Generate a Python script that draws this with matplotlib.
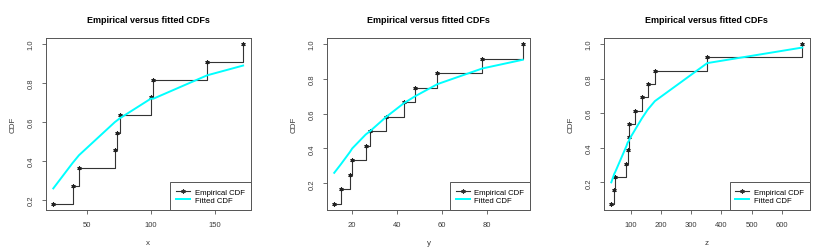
import numpy as np
import matplotlib.pyplot as plt

plt.rcParams['font.family'] = ['Liberation Sans', 'DejaVu Sans']

x_vals = [24, 39, 44, 72, 74, 76, 100, 102, 144, 172]
x_ecdf = [0.182, 0.273, 0.364, 0.455, 0.545, 0.636, 0.727, 0.818, 0.909, 1.0]
x_fit = [0.26, 0.39, 0.43, 0.60, 0.61, 0.62, 0.72, 0.72, 0.84, 0.89]

y_vals = [12, 15, 19, 20, 26, 28, 35, 43, 48, 58, 78, 96]
y_ecdf = [0.083, 0.167, 0.25, 0.333, 0.417, 0.5, 0.583, 0.667, 0.75, 0.833, 0.917, 1.0]
y_fit = [0.26, 0.31, 0.38, 0.40, 0.48, 0.50, 0.58, 0.66, 0.70, 0.77, 0.86, 0.91]

z_vals = [36, 46, 49, 86, 90, 94, 96, 113, 137, 156, 180, 353, 667]
z_ecdf = [0.077, 0.154, 0.231, 0.308, 0.385, 0.462, 0.538, 0.615, 0.692, 0.769, 0.846, 0.923, 1.0]
z_fit = [0.20, 0.25, 0.26, 0.41, 0.43, 0.44, 0.45, 0.50, 0.57, 0.62, 0.67, 0.89, 0.98]

panels = [
    ('x', x_vals, x_ecdf, x_fit, [50, 100, 150]),
    ('y', y_vals, y_ecdf, y_fit, [20, 40, 60, 80]),
    ('z', z_vals, z_ecdf, z_fit, [100, 200, 300, 400, 500, 600]),
]
lefts = [0.0554, 0.396, 0.7317]
widths = [0.2485, 0.2468, 0.250]

fig = plt.figure(figsize=(8.25, 2.53), dpi=100)
txt = '#3a3a3a'

for (name, v, e, f, xt), l, w in zip(panels, lefts, widths):
    ax = fig.add_axes([l, 0.166, w, 0.681])
    ax.step(v, e, where='post', color='#333333', lw=0.8)
    ax.plot(v, e, ls='none', marker=(6, 2, 0), ms=3, mew=0.8, color='#222222')
    ax.plot(v, f, color='#00ffff', lw=1.4)
    ax.margins(x=0.04, y=0.04)
    ax.set_xticks(xt)
    ax.set_yticks([0.2, 0.4, 0.6, 0.8, 1.0])
    ax.set_yticklabels(['0.2', '0.4', '0.6', '0.8', '1.0'], rotation=90, va='center')
    ax.tick_params(labelsize=5.5, colors='#555555', labelcolor=txt, length=3, width=0.6, pad=5)
    for s in ax.spines.values():
        s.set_color('#555555')
        s.set_linewidth(0.7)
    ax.set_xlabel(name, fontsize=5.8, color=txt, labelpad=8)
    ax.set_ylabel('CDF', fontsize=5.8, color=txt, labelpad=8)
    ax.set_title('Empirical versus fitted CDFs', fontsize=6.5, fontweight='bold', pad=11)
    h1, = ax.plot([], [], color='#333333', lw=0.8, marker=(6, 2, 0), ms=3, mew=0.8)
    h2, = ax.plot([], [], color='#00ffff', lw=1.4)
    leg = ax.legend([h1, h2], ['Empirical CDF', 'Fitted CDF'], loc='lower right',
                    fontsize=5.6, borderaxespad=0, fancybox=False, framealpha=1,
                    handlelength=1.8, handletextpad=0.6, borderpad=0.75, labelspacing=0.15)
    leg.get_frame().set_edgecolor('#555555')
    leg.get_frame().set_linewidth(0.7)

fig.savefig('out.png', dpi=100)
